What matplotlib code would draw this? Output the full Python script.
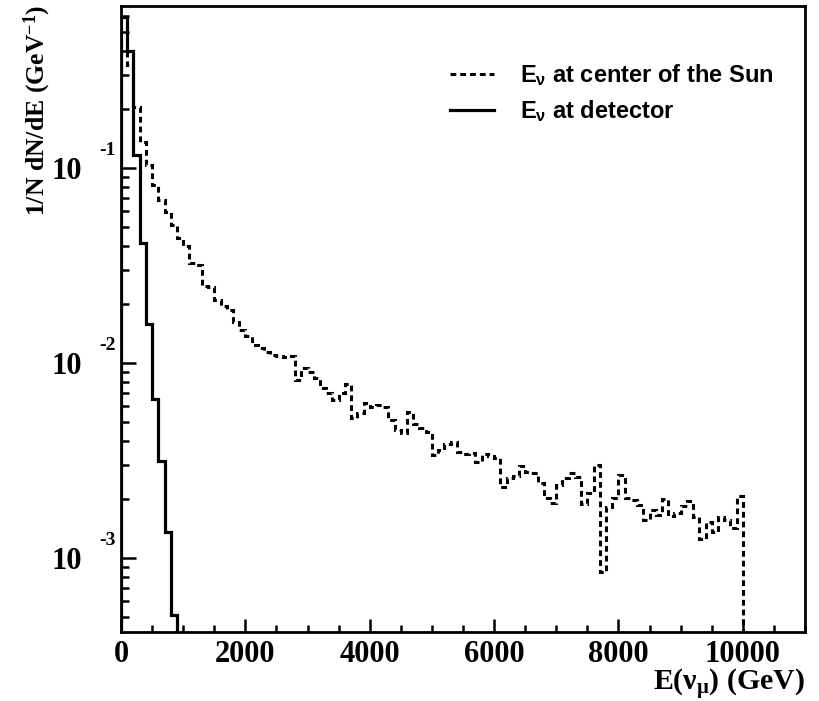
import numpy as np
import matplotlib
matplotlib.use("Agg")
import matplotlib.pyplot as plt

# neutrino energy spectra, 100 GeV bins
bin_width = 100.0

# E_nu at center of the Sun (dashed), 0 - 10000 GeV
sun_flux = [0.393, 0.338, 0.206, 0.136, 0.104, 0.0818, 0.0685, 0.0595, 0.0510, 0.0438,
            0.0398, 0.0326, 0.0318, 0.0248, 0.0245, 0.0210, 0.0196, 0.0187, 0.0162, 0.0148,
            0.01376, 0.01237, 0.01194, 0.01139, 0.01099, 0.01086, 0.01073, 0.01086, 0.00818, 0.00943,
            0.00899, 0.00838, 0.00744, 0.00702, 0.00646, 0.00702, 0.00781, 0.00522, 0.00554, 0.00624,
            0.00595, 0.00609, 0.00595, 0.00510, 0.00453, 0.00438, 0.00561, 0.00487, 0.00464, 0.00443,
            0.00338, 0.00358, 0.00384, 0.00393, 0.00350, 0.00342, 0.00346, 0.00311, 0.00342, 0.00334,
            0.00326, 0.00231, 0.00257, 0.00263, 0.00296, 0.00276, 0.00273, 0.00242, 0.00203, 0.00191,
            0.00237, 0.00257, 0.00273, 0.00260, 0.00189, 0.00215, 0.00300, 0.000848, 0.00183, 0.00203,
            0.00266, 0.00203, 0.00198, 0.00187, 0.00157, 0.00176, 0.00166, 0.00201, 0.00164, 0.00170,
            0.00185, 0.00196, 0.00162, 0.00125, 0.00153, 0.00136, 0.00162, 0.00157, 0.00142, 0.00208]

# E_nu at detector (solid), 0 - 900 GeV
det_flux = [0.597, 0.399, 0.1166, 0.0412, 0.0158, 0.00653, 0.00314, 0.00136, 0.000511]

xticks = [0, 2000, 4000, 6000, 8000, 10000]
ydecades = [1e-3, 1e-2, 1e-1]
yexp_labels = ["-3", "-2", "-1"]

plt.rcParams['mathtext.fontset'] = 'custom'
plt.rcParams['mathtext.rm'] = 'Liberation Serif:bold'
plt.rcParams['mathtext.it'] = 'Liberation Serif:bold'
plt.rcParams['mathtext.bf'] = 'Liberation Serif:bold'
plt.rcParams['mathtext.sf'] = 'Liberation Sans:bold'

serif = dict(family='Liberation Serif', weight='bold')

fig = plt.figure(figsize=(8.2, 7.01), dpi=100)
ax = fig.add_axes([0.1476, 0.0984, 0.8341, 0.893])

sun_edges = np.arange(len(sun_flux) + 1) * bin_width
det_edges = np.arange(len(det_flux) + 1) * bin_width

ax.stairs(sun_flux, sun_edges, baseline=1e-6, color='black', lw=2.2,
          linestyle=(0, (1.9, 1.3)), label=r"$\mathsf{E_{\nu}}$ at center of the Sun")
ax.stairs(det_flux, det_edges, baseline=1e-6, color='black', lw=2.3,
          label=r"$\mathsf{E_{\nu}}$ at detector")

ax.set_yscale('log')
ax.set_xlim(0, 11000)
ax.set_ylim(4.18e-4, 0.678)

for s in ax.spines.values():
    s.set_linewidth(2.0)

ax.set_xticks(xticks)
ax.set_xticklabels([str(t) for t in xticks], fontsize=22, **serif)
ax.xaxis.set_minor_locator(matplotlib.ticker.MultipleLocator(500))
ax.tick_params(axis='x', which='major', direction='in', length=9.5, width=1.8, pad=6)
ax.tick_params(axis='x', which='minor', direction='in', length=5, width=1.8)

ax.set_yticks(ydecades)
ax.set_yticklabels(["10"] * len(ydecades), fontsize=22, **serif)
ax.yaxis.set_minor_locator(matplotlib.ticker.LogLocator(base=10, subs=np.arange(2, 10)))
ax.yaxis.set_minor_formatter(matplotlib.ticker.NullFormatter())
ax.tick_params(axis='y', which='major', direction='in', length=10.5, width=1.8, pad=28)
ax.tick_params(axis='y', which='minor', direction='in', length=5.5, width=1.8)

for yv, lab in zip(ydecades, yexp_labels):
    ax.annotate(lab, xy=(0, yv), xycoords=('axes fraction', 'data'),
                xytext=(-4, 13), textcoords='offset points',
                ha='right', va='center', fontsize=14, **serif)

fig.text(0.045, 0.842, r"1/N dN/dE (GeV$^{-1}$)", rotation=90,
         ha='center', va='center', fontsize=18.5, **serif)
fig.text(0.981, 0.024, r"E($\nu_{\mu}$) (GeV)", ha='right', va='center',
         fontsize=21.5, **serif)

leg = ax.legend(loc='upper left', bbox_to_anchor=(0.481, 0.91), frameon=False,
                prop=dict(family='Liberation Sans', weight='bold', size=17),
                handlelength=1.85, handletextpad=1.1, borderpad=0, borderaxespad=0,
                labelspacing=0.42)

fig.savefig("out.png", dpi=100)
